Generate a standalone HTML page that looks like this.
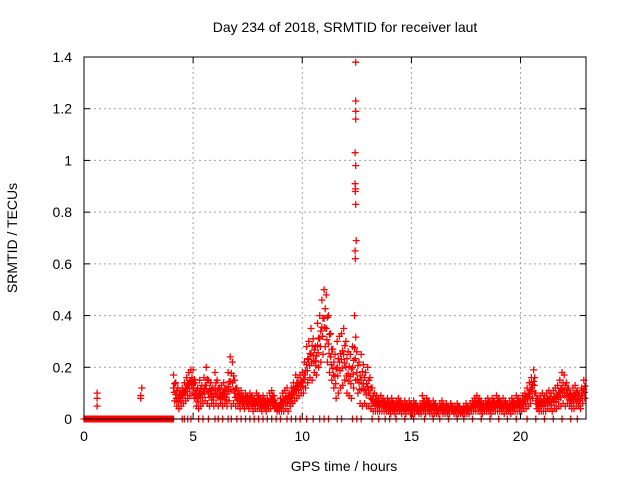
<!DOCTYPE html>
<html><head><meta charset="utf-8"><style>
body{margin:0;background:#fff}
svg{display:block;font-family:"Liberation Sans",sans-serif}
</style></head><body>
<svg id="c" width="640" height="480">
<text x="345" y="32" font-size="14" text-anchor="middle">Day 234 of 2018, SRMTID for receiver laut</text>
<text x="344" y="471" font-size="14" text-anchor="middle">GPS time / hours</text>
<text transform="translate(17,238) rotate(-90)" font-size="14" text-anchor="middle">SRMTID / TECUs</text>
<g id="grid"></g><g id="ticks"></g><g id="pts"></g>
<rect x="84" y="57" width="502" height="362" fill="none" stroke="#000" stroke-width="1"/>
</svg>
<script>
const xTicks=[0,5,10,15,20];
const yTicks=[0,0.2,0.4,0.6,0.8,1,1.2,1.4];
const yTickLabels=["0","0.2","0.4","0.6","0.8","1","1.2","1.4"];
const bandStart=4.1;
const bandHi=[.17,.14,.12,.11,.12,.14,.16,.18,.19,
.19,.14,.12,.15,.13,.16,.20,.15,.14,.12,
.18,.15,.12,.13,.14,.12,.18,.24,.22,.15,
.12,.10,.11,.09,.10,.09,.10,.09,.08,.10,
.09,.08,.09,.07,.08,.10,.11,.09,.06,.05,
.08,.10,.11,.12,.10,.12,.14,.17,.16,.17,
.18,.22,.28,.30,.35,.31,.28,.37,.40,.46,
.50,.48,.40,.33,.27,.25,.30,.32,.33,.35,
.30,.26,.25,.28,.40,.26,.22,.25,.21,.18,
.20,.16,.12,.10,.09,.08,.09,.08,.07,.08,
.07,.08,.06,.07,.08,.07,.06,.07,.06,.07,
.06,.07,.06,.05,.06,.09,.07,.08,.07,.06,
.07,.06,.05,.06,.07,.05,.06,.05,.06,.05,
.05,.06,.05,.04,.05,.06,.05,.06,.07,.08,
.09,.08,.07,.06,.07,.08,.07,.08,.07,.09,
.08,.07,.08,.07,.06,.07,.08,.07,.09,.08,
.07,.09,.10,.12,.14,.16,.19,.10,.08,.09,
.10,.09,.10,.11,.10,.11,.12,.13,.15,.18,
.17,.14,.12,.10,.12,.13,.11,.10,.12,.15];
const bandLo=[.07,.05,.04,.05,.06,.07,.08,.09,.10,
.08,.05,.04,.05,.06,.07,.06,.05,.06,.05,
.06,.05,.06,.05,.06,.05,.07,.05,.06,.05,
.05,.04,.05,.04,.05,.04,.05,.03,.04,.04,
.04,.03,.04,.03,.04,.04,.05,.04,.03,.03,
.03,.03,.04,.03,.05,.06,.07,.08,.09,.10,
.10,.12,.14,.16,.15,.18,.17,.20,.22,.25,
.28,.22,.18,.15,.12,.08,.10,.12,.13,.15,
.10,.09,.08,.12,.15,.10,.06,.05,.06,.05,
.05,.04,.03,.03,.03,.03,.03,.03,.03,.03,
.02,.03,.02,.03,.03,.02,.03,.02,.03,.02,
.02,.02,.03,.02,.02,.03,.02,.03,.02,.02,
.02,.02,.02,.03,.02,.02,.02,.02,.03,.02,
.02,.02,.02,.02,.02,.02,.02,.03,.03,.03,
.03,.03,.02,.03,.03,.03,.02,.03,.03,.03,
.03,.03,.02,.03,.03,.02,.03,.03,.03,.03,
.03,.04,.04,.05,.06,.08,.10,.04,.03,.03,
.03,.03,.04,.04,.03,.04,.04,.05,.05,.06,
.05,.06,.05,.04,.04,.05,.05,.04,.06,.08];
const extraT=[0.6,0.6,0.6,2.6,2.6,2.65];
const extraV=[0.05,0.08,0.10,0.08,0.09,0.12];
const spikeT=[12.45,12.45,12.45,12.45,12.42,12.45,12.42,12.44,12.43,12.45,12.47,12.42,12.43];
const spikeV=[1.38,1.23,1.19,1.16,1.03,0.98,0.91,0.89,0.88,0.83,0.69,0.65,0.62];
const zeroT=[4.5,4.6,4.75,4.9,5.25,5.45,5.7,6.0,6.15,6.35,6.6,6.75,7.0,7.2,7.4,7.6,7.8,8.0,8.2,8.4,8.6,8.8,9.0,9.3,9.5,9.7,9.9,10.2,10.5,10.8,11.0,11.2,11.6,11.8,12.3,12.5,12.7,13.2,13.5,13.8,14.0,14.3,14.7,15.1,15.6,16.0,16.3,16.7,17.1,17.4,17.8,18.2,18.6,19.0,19.4,19.8,20.3,20.7,21.1,21.5,21.9,22.3,22.6];
const X=h=>84+h*(502/23), Y=v=>419-v*(362/1.4);
const NS="http://www.w3.org/2000/svg";
function mk(t,p,a){const e=document.createElementNS(NS,t);for(const k in a)e.setAttribute(k,a[k]);p.appendChild(e);return e;}
const grid=document.getElementById('grid'),ticks=document.getElementById('ticks'),pts=document.getElementById('pts');
xTicks.forEach(t=>{const x=X(t);
 if(t>0){const g=mk('line',grid,{x1:x,x2:x,y1:57,y2:419,stroke:'#a0a0a0','stroke-dasharray':'2,3'});
 
 }
 mk('line',ticks,{x1:x,x2:x,y1:419,y2:413,stroke:'#000'});mk('line',ticks,{x1:x,x2:x,y1:57,y2:63,stroke:'#000'});
 const l=mk('text',ticks,{x:x,y:441,'font-size':14,'text-anchor':'middle'});l.textContent=t;
 
 });
yTicks.forEach((t,i)=>{const y=Y(t);
 if(t>0&&t<1.4){const g=mk('line',grid,{x1:84,x2:586,y1:y,y2:y,stroke:'#a0a0a0','stroke-dasharray':'2,3'});
 
 }
 mk('line',ticks,{x1:84,x2:90,y1:y,y2:y,stroke:'#000'});mk('line',ticks,{x1:586,x2:580,y1:y,y2:y,stroke:'#000'});
 const l=mk('text',ticks,{x:72,y:y+5,'font-size':14,'text-anchor':'end'});l.textContent=yTickLabels[i];
 
 });
let d='';
function plus(h,v){const x=X(h),y=Y(v);d+=`M${(x-3.5).toFixed(1)} ${y.toFixed(1)}h7M${x.toFixed(1)} ${(y-3.5).toFixed(1)}v7`;}
for(let h=0;h<=4.1;h+=0.05)plus(h,0);
zeroT.forEach(t=>plus(t,0));
extraT.forEach((t,i)=>plus(t,extraV[i]));
bandHi.forEach((v,i)=>{const t=bandStart+i*0.1;plus(t,v);plus(t+0.05,bandLo[i]);plus(t,(v+bandLo[i])/2);plus(t+0.05,(2*v+bandLo[i])/3);plus(t+0.03,(v+2*bandLo[i])/3);});
spikeT.forEach((t,i)=>plus(t,spikeV[i]));
const p=mk('path',pts,{d:d,stroke:'#ff0000','stroke-width':1.3,fill:'none'});


</script>
</body></html>
